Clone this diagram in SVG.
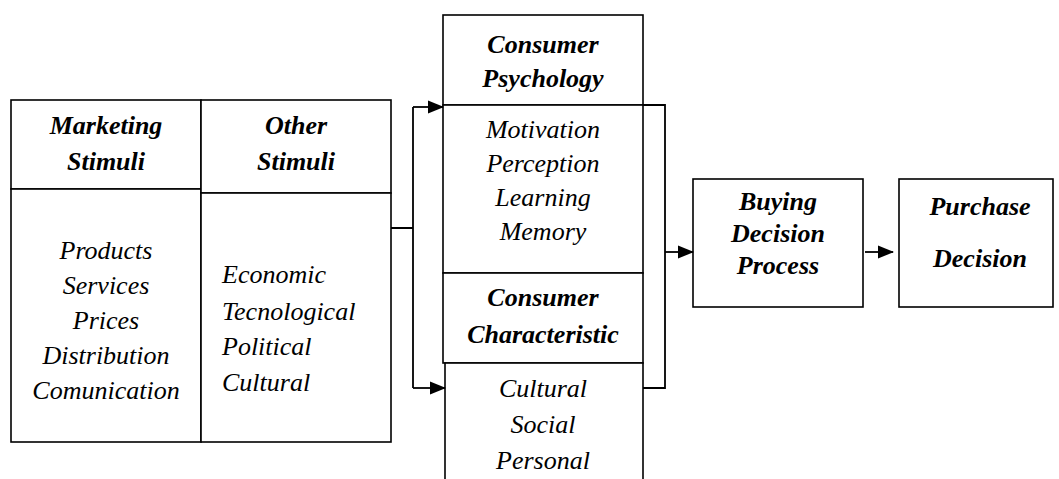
<svg xmlns="http://www.w3.org/2000/svg" width="1059" height="479" viewBox="0 0 1059 479">
<style>
.box{fill:#fff;stroke:#000;stroke-width:1.6}
.ln{fill:none;stroke:#000;stroke-width:1.8}
text{font-family:"Liberation Serif","Times New Roman",serif;font-size:26px;font-style:italic;fill:#000}
.h{font-weight:bold}
.c{text-anchor:middle}
</style>
<defs>
<marker id="ah" markerWidth="16" markerHeight="14" refX="15" refY="7" orient="auto" markerUnits="userSpaceOnUse">
<path d="M0,0.5 L16,7 L0,13.5 Z" fill="#000"/>
</marker>
</defs>
<rect width="1059" height="479" fill="#fff"/>
<g id="marketing">
<rect class="box" x="11" y="100" width="190" height="89"/>
<rect class="box" x="11" y="189" width="190" height="253"/>
<text class="h c" x="106" y="134">Marketing</text>
<text class="h c" x="106" y="170">Stimuli</text>
<text class="c" x="106" y="259">Products</text>
<text class="c" x="106" y="294">Services</text>
<text class="c" x="106" y="329">Prices</text>
<text class="c" x="106" y="364">Distribution</text>
<text class="c" x="106" y="399">Comunication</text>
</g>
<g id="other">
<rect class="box" x="201" y="100" width="190" height="93"/>
<rect class="box" x="201" y="193" width="190" height="249"/>
<text class="h c" x="296" y="134">Other</text>
<text class="h c" x="296" y="170">Stimuli</text>
<text x="222" y="283">Economic</text>
<text x="222" y="320">Tecnological</text>
<text x="222" y="355">Political</text>
<text x="222" y="391">Cultural</text>
</g>
<g id="psychology">
<rect class="box" x="443" y="15" width="200" height="90"/>
<rect class="box" x="443" y="105" width="200" height="168"/>
<text class="h c" x="543" y="53">Consumer</text>
<text class="h c" x="543" y="87">Psychology</text>
<text class="c" x="543" y="138">Motivation</text>
<text class="c" x="543" y="172">Perception</text>
<text class="c" x="543" y="206">Learning</text>
<text class="c" x="543" y="240">Memory</text>
</g>
<g id="characteristic">
<rect class="box" x="443" y="273" width="200" height="90"/>
<rect class="box" x="445" y="363" width="198" height="130"/>
<text class="h c" x="543" y="306">Consumer</text>
<text class="h c" x="543" y="343">Characteristic</text>
<text class="c" x="543" y="397">Cultural</text>
<text class="c" x="543" y="433">Social</text>
<text class="c" x="543" y="469">Personal</text>
</g>
<g id="buying">
<rect class="box" x="693" y="179" width="170" height="128"/>
<text class="h c" x="778" y="210">Buying</text>
<text class="h c" x="778" y="242">Decision</text>
<text class="h c" x="778" y="274">Process</text>
</g>
<g id="purchase">
<rect class="box" x="899" y="179" width="154" height="128"/>
<text class="h c" x="980" y="215">Purchase</text>
<text class="h c" x="980" y="267">Decision</text>
</g>
<g id="connectors">
<path class="ln" d="M391,228 H413 M413,107 V388"/>
<path class="ln" d="M413,107 H443" marker-end="url(#ah)"/>
<path class="ln" d="M413,388 H445" marker-end="url(#ah)"/>
<path class="ln" d="M643,105 H665 V388 H643"/>
<path class="ln" d="M665,252 H693" marker-end="url(#ah)"/>
<path class="ln" d="M865,252 H893" marker-end="url(#ah)"/>
</g>
</svg>
